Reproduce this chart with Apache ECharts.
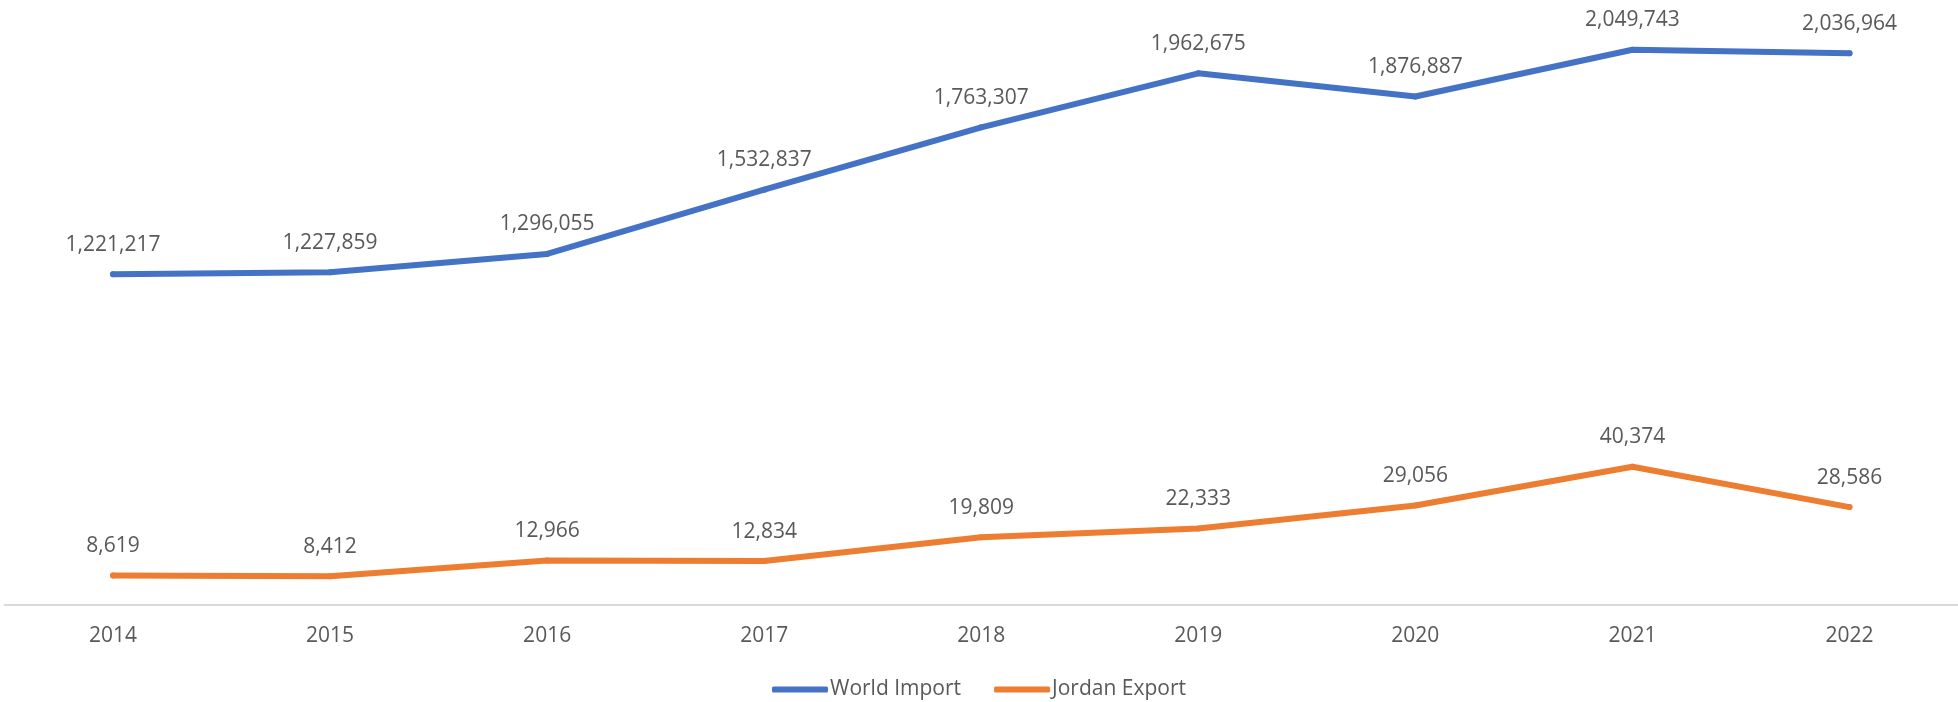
<!DOCTYPE html>
<html>
<head>
<meta charset="utf-8">
<script src="https://cdn.jsdelivr.net/npm/echarts@6/dist/echarts.min.js"></script>
<style>
html,body{margin:0;padding:0;background:#fff;}
#chart{width:1958px;height:702px;}
</style>
</head>
<body>
<div id="chart"></div>
<script>
const years = ['2014','2015','2016','2017','2018','2019','2020','2021','2022'];
const worldImport = [1221217, 1227859, 1296055, 1532837, 1763307, 1962675, 1876887, 2049743, 2036964];
const jordanExport = [8619, 8412, 12966, 12834, 19809, 22333, 29056, 40374, 28586];

const fmt = p => Number(p.value).toLocaleString('en-US');
const FONT = 'Open Sans';
const TXT = '#595959';

const chart = echarts.init(document.getElementById('chart'));
chart.setOption({
  animation: false,
  backgroundColor: '#fff',
  grid: {left: 4.5, right: 0, top: 9, bottom: 97, containLabel: false},
  legend: {
    left: 'center', top: 674,
    icon: 'roundRect', itemWidth: 56, itemHeight: 6, itemGap: 33,
    textStyle: {color: TXT, fontFamily: FONT, fontSize: 21, padding: [0,0,0,-3]},
    data: ['World Import', 'Jordan Export']
  },
  xAxis: {
    type: 'category', data: years, boundaryGap: true,
    axisTick: {show: false},
    axisLine: {lineStyle: {color: '#d9d9d9', width: 2}},
    axisLabel: {color: TXT, fontFamily: FONT, fontSize: 21, margin: 21}
  },
  yAxis: [
    {type: 'value', min: 0, max: 174000, show: false, splitLine: {show: false}},
    {type: 'value', min: 0, max: 2200000, show: false, splitLine: {show: false}}
  ],
  series: [
    {
      name: 'World Import', type: 'line', yAxisIndex: 1, data: worldImport,
      symbol: 'circle', symbolSize: 6,
      itemStyle: {color: '#4472C4'},
      lineStyle: {color: '#4472C4', width: 6, cap: 'round', join: 'round'},
      label: {show: true, position: 'top', distance: 16, formatter: fmt,
              color: TXT, fontFamily: FONT, fontSize: 21}
    },
    {
      name: 'Jordan Export', type: 'line', yAxisIndex: 0, data: jordanExport,
      symbol: 'circle', symbolSize: 6,
      itemStyle: {color: '#ED7D31'},
      lineStyle: {color: '#ED7D31', width: 6, cap: 'round', join: 'round'},
      label: {show: true, position: 'top', distance: 16, formatter: fmt,
              color: TXT, fontFamily: FONT, fontSize: 21}
    }
  ]
});
</script>
</body>
</html>
